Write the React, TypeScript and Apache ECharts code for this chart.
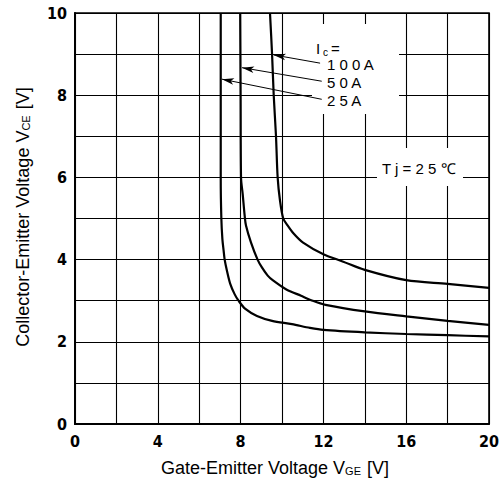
import React, { useEffect, useRef } from 'react';
import * as echarts from 'echarts';

// Axis ticks
const vgeTicks = [0, 4, 8, 12, 16, 20];
const vceTicks = [0, 2, 4, 6, 8, 10];

// Ic = 25 A
const ic25X = [7.04, 7.04, 7.07, 7.12, 7.18, 7.23, 7.34, 7.5, 7.71, 7.9, 8.23, 8.79, 9.52, 10.48, 11.35, 12, 14, 16, 18, 20];
const ic25Y = [10, 6, 5, 4.5, 4.22, 4.0, 3.73, 3.41, 3.16, 3.0, 2.8, 2.63, 2.51, 2.43, 2.34, 2.29, 2.23, 2.19, 2.16, 2.13];
// Ic = 50 A
const ic50X = [7.98, 8.0, 8.02, 8.1, 8.2, 8.26, 8.5, 8.82, 9.03, 9.31, 9.55, 10.19, 10.92, 11.48, 12.1, 14, 16, 18, 20];
const ic50Y = [10, 8, 6, 5.6, 5.05, 4.83, 4.42, 4.0, 3.81, 3.61, 3.5, 3.28, 3.12, 3.0, 2.9, 2.74, 2.62, 2.51, 2.41];
// Ic = 100 A
const ic100X = [9.42, 9.52, 9.6, 9.71, 9.79, 9.9, 10.06, 10.27, 10.55, 11.0, 12.0, 12.96, 14, 16, 18, 20];
const ic100Y = [10, 9, 8, 7, 6, 5.45, 5.0, 4.83, 4.64, 4.42, 4.13, 3.95, 3.75, 3.5, 3.41, 3.31];

// Arrow annotations (tail -> tip), in data coordinates
const arrow100 = [[11.84, 8.78], [9.6, 8.98]];
const arrow50 = [[11.92, 8.34], [8.07, 8.67]];
const arrow25 = [[11.92, 7.9], [7.1, 8.39]];

const curveLabels = ['1 0 0 A', '5 0 A', '2 5 A'];
const tjLabel = 'T j = 2 5 \u2103';

const FONT = '"Liberation Sans", Arial, Helvetica, sans-serif';
const NARROW = '"Liberation Sans Narrow", "DejaVu Sans Condensed", "Liberation Sans", Arial, sans-serif';

function zip(xs: number[], ys: number[]) {
  return xs.map((x, i) => [x, ys[i]]);
}

function curveSeries(name: string, xs: number[], ys: number[], arrow: number[][]) {
  return {
    name,
    type: 'line',
    data: zip(xs, ys),
    showSymbol: false,
    smooth: 0.3,
    z: 3,
    lineStyle: { color: '#000', width: 2.2 },
    markLine: {
      silent: true,
      symbol: ['none', 'arrow'],
      symbolSize: [5, 12],
      label: { show: false },
      lineStyle: { color: '#000', width: 1, type: 'solid' },
      itemStyle: { color: '#000' },
      data: [[{ coord: arrow[0] }, { coord: arrow[1] }]],
    },
  };
}

export default function App() {
  const ref = useRef<HTMLDivElement>(null);
  useEffect(() => {
    document.body.style.margin = '0';
    const chart = echarts.init(ref.current!, null, { renderer: 'svg' });
    chart.setOption({
      animation: false,
      backgroundColor: '#fff',
      grid: {
        left: 75,
        right: 15,
        top: 13,
        bottom: 59,
        show: true,
        borderColor: '#000',
        borderWidth: 1.6,
        backgroundColor: 'transparent',
      },
      xAxis: {
        type: 'value',
        min: 0,
        max: 20,
        interval: 2,
        axisLine: { show: true, lineStyle: { color: '#000', width: 2 } },
        axisTick: { show: false },
        axisLabel: {
          show: true,
          margin: 9,
          color: '#000',
          fontSize: 16,
          fontWeight: 'bold',
          fontFamily: NARROW,
          showMinLabel: true,
          showMaxLabel: true,
          formatter: (v: number) => (vgeTicks.includes(v) ? String(v) : ''),
        },
        splitLine: { show: true, lineStyle: { color: '#000', width: 1.1 } },
      },
      yAxis: {
        type: 'value',
        min: 0,
        max: 10,
        interval: 1,
        axisLine: { show: true, lineStyle: { color: '#000', width: 2 } },
        axisTick: { show: false },
        axisLabel: {
          show: true,
          margin: 8,
          color: '#000',
          fontSize: 16,
          fontWeight: 'bold',
          fontFamily: NARROW,
          showMinLabel: true,
          showMaxLabel: true,
          formatter: (v: number) => (vceTicks.includes(v) ? String(v) : ''),
        },
        splitLine: { show: true, lineStyle: { color: '#000', width: 1.1 } },
      },
      graphic: [
        { type: 'rect', z: 1, shape: { x: 284, y: 24, width: 115, height: 64 }, style: { fill: '#fff' } },
        { type: 'rect', z: 1, shape: { x: 312, y: 87, width: 87, height: 27 }, style: { fill: '#fff' } },
        { type: 'rect', z: 1, shape: { x: 377, y: 148, width: 86, height: 38 }, style: { fill: '#fff' } },
        { type: 'text', z: 10, x: 316, y: 48, style: { text: 'I', font: '15px ' + FONT, fill: '#000', textVerticalAlign: 'middle' } },
        { type: 'text', z: 10, x: 323, y: 52, style: { text: 'c', font: '10px ' + FONT, fill: '#000', textVerticalAlign: 'middle' } },
        { type: 'text', z: 10, x: 331, y: 48, style: { text: '=', font: '15px ' + FONT, fill: '#000', textVerticalAlign: 'middle' } },
        { type: 'text', z: 10, x: 327, y: 64, style: { text: curveLabels[0], font: '15px ' + FONT, fill: '#000', textVerticalAlign: 'middle' } },
        { type: 'text', z: 10, x: 327, y: 82, style: { text: curveLabels[1], font: '15px ' + FONT, fill: '#000', textVerticalAlign: 'middle' } },
        { type: 'text', z: 10, x: 327, y: 100, style: { text: curveLabels[2], font: '15px ' + FONT, fill: '#000', textVerticalAlign: 'middle' } },
        { type: 'text', z: 10, x: 382, y: 168, style: { text: tjLabel, font: '15px ' + FONT, fill: '#000', textVerticalAlign: 'middle' } },
        {
          type: 'text', z: 10, x: 275, y: 468,
          style: {
            text: 'Gate-Emitter Voltage V{s|GE} [V]',
            font: '18px ' + FONT,
            fill: '#000',
            textAlign: 'center',
            textVerticalAlign: 'middle',
            rich: { s: { fontSize: 11, fontFamily: FONT, fill: '#000', verticalAlign: 'bottom', padding: [0, 1, 1, 0] } },
          },
        },
        {
          type: 'text', z: 10, x: 23, y: 217, rotation: Math.PI / 2,
          style: {
            text: 'Collector-Emitter Voltage V{s|CE} [V]',
            font: '18px ' + FONT,
            fill: '#000',
            textAlign: 'center',
            textVerticalAlign: 'middle',
            rich: { s: { fontSize: 11, fontFamily: FONT, fill: '#000', verticalAlign: 'bottom', padding: [0, 1, 1, 0] } },
          },
        },
      ],
      series: [
        curveSeries('100A', ic100X, ic100Y, arrow100),
        curveSeries('50A', ic50X, ic50Y, arrow50),
        curveSeries('25A', ic25X, ic25Y, arrow25),
      ],
    });
    return () => chart.dispose();
  }, []);
  return <div ref={ref} style={{ width: 504, height: 483 }} />;
}
